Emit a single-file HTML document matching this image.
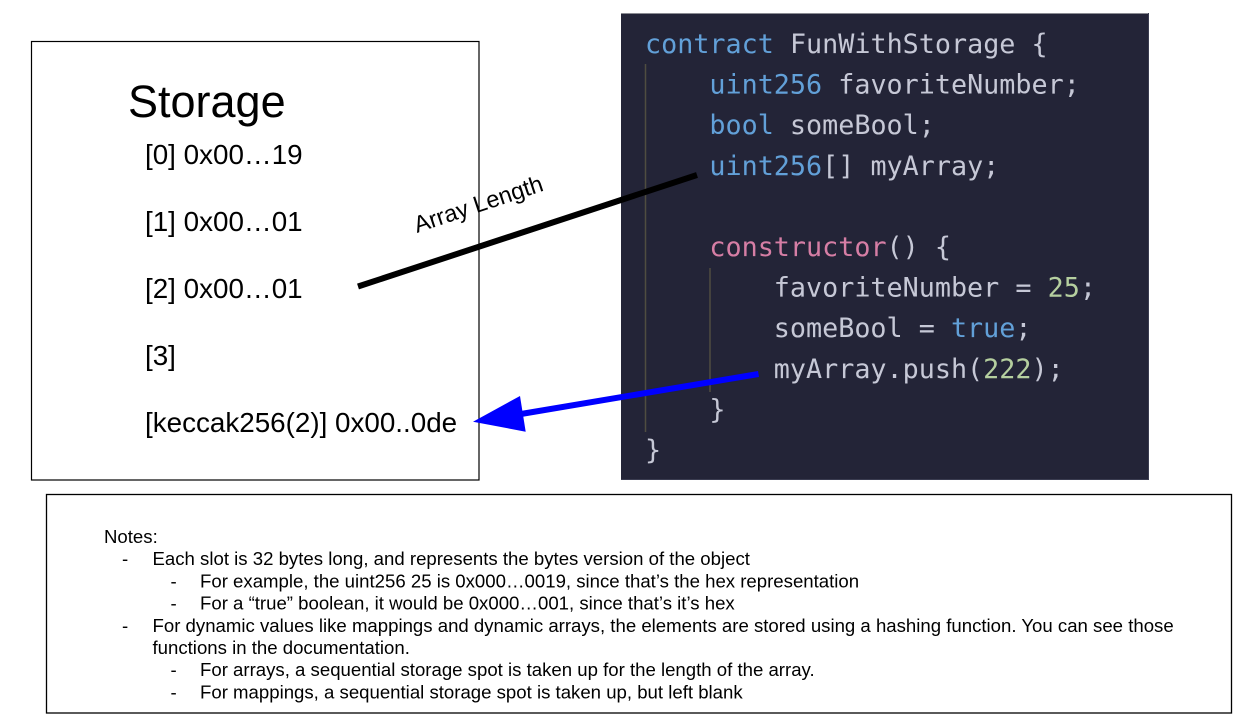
<!DOCTYPE html>
<html>
<head>
<meta charset="utf-8">
<style>
  html, body { margin: 0; padding: 0; background: #ffffff; }
  body { width: 1251px; height: 727px; overflow: hidden; }
  svg { display: block; }
  .sans { font-family: "Liberation Sans", Arial, sans-serif; fill: #000; }
  .mono { font-family: "DejaVu Sans Mono", "Liberation Mono", monospace; font-size: 26.75px; fill: #c6c8d6; }
  .kw { fill: #62a0d8; }
  .pk { fill: #d67ea5; }
  .nm { fill: #b5cf9f; }
</style>
</head>
<body>
<svg width="1251" height="727" viewBox="0 0 1251 727" xmlns="http://www.w3.org/2000/svg">
  <rect x="0" y="0" width="1251" height="727" fill="#ffffff"/>

  <!-- Storage box -->
  <rect x="31.5" y="41.5" width="447.5" height="438.5" fill="none" stroke="#000" stroke-width="1.2"/>
  <text class="sans" x="128" y="117" font-size="45">Storage</text>
  <text class="sans" x="145" y="164" font-size="27.8">[0] 0x00…19</text>
  <text class="sans" x="145" y="231" font-size="27.8">[1] 0x00…01</text>
  <text class="sans" x="145" y="298" font-size="27.8">[2] 0x00…01</text>
  <text class="sans" x="145" y="365" font-size="27.8">[3]</text>
  <text class="sans" x="145" y="432" font-size="27.8">[keccak256(2)] 0x00..0de</text>

  <!-- Code panel -->
  <rect x="621" y="13" width="528" height="467" fill="#232437"/>
  <line x1="621" y1="13.5" x2="1149" y2="13.5" stroke="#8a8b92" stroke-width="1"/>
  <line x1="1148.5" y1="13" x2="1148.5" y2="480" stroke="#3a3c50" stroke-width="1"/>
  <line x1="621" y1="479.5" x2="1149" y2="479.5" stroke="#3a3c50" stroke-width="1"/>
  <!-- indent guides -->
  <line x1="645.5" y1="64" x2="645.5" y2="432" stroke="#4f4d40" stroke-width="1.5"/>
  <line x1="710" y1="268" x2="710" y2="392" stroke="#4f4d40" stroke-width="1.5"/>

  <text class="mono" xml:space="preserve" x="645" y="53"><tspan class="kw">contract</tspan> FunWithStorage {</text>
  <text class="mono" xml:space="preserve" x="709.4" y="93.6"><tspan class="kw">uint256</tspan> favoriteNumber;</text>
  <text class="mono" xml:space="preserve" x="709.4" y="134.2"><tspan class="kw">bool</tspan> someBool;</text>
  <text class="mono" xml:space="preserve" x="709.4" y="174.8"><tspan class="kw">uint256</tspan>[] myArray;</text>
  <text class="mono" xml:space="preserve" x="709.4" y="256"><tspan class="pk">constructor</tspan>() {</text>
  <text class="mono" xml:space="preserve" x="773.8" y="296.6">favoriteNumber = <tspan class="nm">25</tspan>;</text>
  <text class="mono" xml:space="preserve" x="773.8" y="337.2">someBool = <tspan class="kw">true</tspan>;</text>
  <text class="mono" xml:space="preserve" x="773.8" y="377.8">myArray.push(<tspan class="nm">222</tspan>);</text>
  <text class="mono" xml:space="preserve" x="709.4" y="418.4">}</text>
  <text class="mono" xml:space="preserve" x="645" y="459">}</text>

  <!-- Array Length connector -->
  <line x1="358" y1="286.5" x2="697" y2="175" stroke="#000" stroke-width="6"/>
  <text class="sans" x="417" y="233" font-size="23.5" transform="rotate(-18.5 417 233)">Array Length</text>

  <!-- Blue arrow -->
  <line x1="758.5" y1="374" x2="518" y2="414.5" stroke="#0000ff" stroke-width="6"/>
  <polygon points="473,421.7 520,396 525.7,431.7" fill="#0000ff"/>

  <!-- Notes box -->
  <rect x="46.5" y="494.5" width="1185" height="218.5" fill="none" stroke="#000" stroke-width="1.3"/>
  <g class="sans" font-size="18.6">
    <text x="104" y="543">Notes:</text>
    <text x="122" y="565.2">-</text>
    <text x="152.5" y="565.2">Each slot is 32 bytes long, and represents the bytes version of the object</text>
    <text x="170.5" y="587.4">-</text>
    <text x="200" y="587.4">For example, the uint256 25 is 0x000…0019, since that’s the hex representation</text>
    <text x="170.5" y="609.6">-</text>
    <text x="200" y="609.6">For a “true” boolean, it would be 0x000…001, since that’s it’s hex</text>
    <text x="122" y="631.8">-</text>
    <text x="152.5" y="631.8">For dynamic values like mappings and dynamic arrays, the elements are stored using a hashing function. You can see those</text>
    <text x="152.5" y="654">functions in the documentation.</text>
    <text x="170.5" y="676.2">-</text>
    <text x="200" y="676.2">For arrays, a sequential storage spot is taken up for the length of the array.</text>
    <text x="170.5" y="698.4">-</text>
    <text x="200" y="698.4">For mappings, a sequential storage spot is taken up, but left blank</text>
  </g>
</svg>
</body>
</html>
